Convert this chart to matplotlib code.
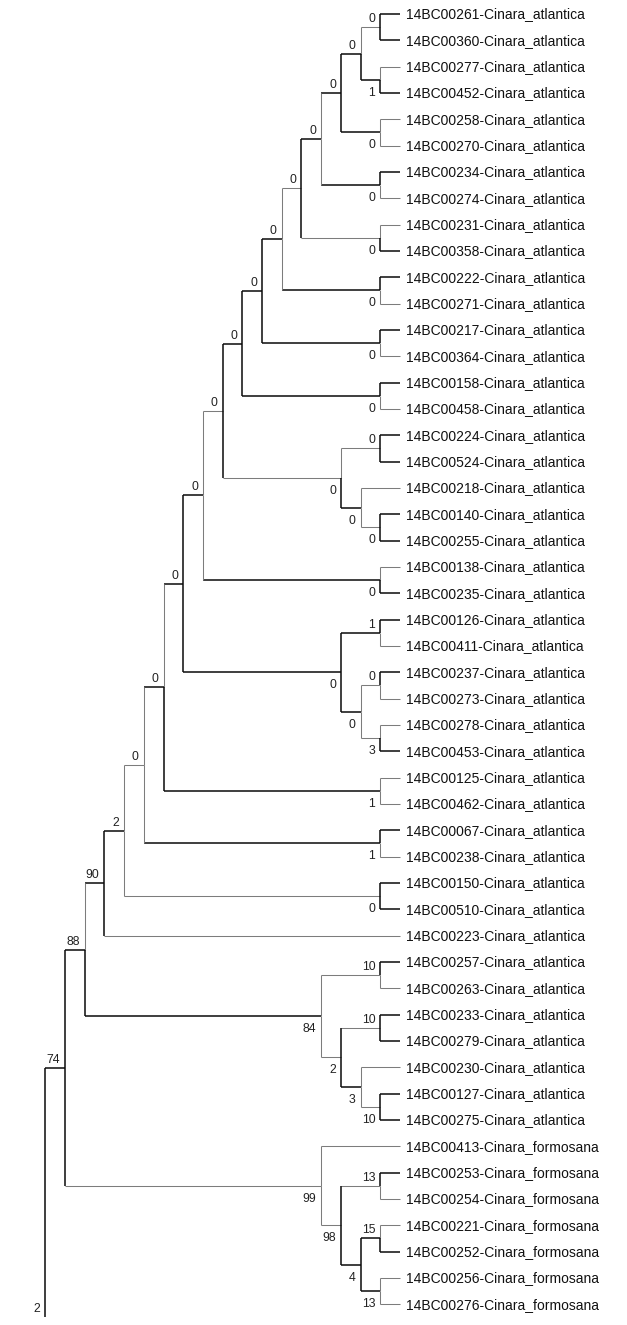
import matplotlib
matplotlib.use("Agg")
import matplotlib.pyplot as plt

plt.rcParams['font.family'] = ['Liberation Sans', 'DejaVu Sans']

# tip labels, top to bottom
taxa = [
    "14BC00261-Cinara_atlantica", "14BC00360-Cinara_atlantica",
    "14BC00277-Cinara_atlantica", "14BC00452-Cinara_atlantica",
    "14BC00258-Cinara_atlantica", "14BC00270-Cinara_atlantica",
    "14BC00234-Cinara_atlantica", "14BC00274-Cinara_atlantica",
    "14BC00231-Cinara_atlantica", "14BC00358-Cinara_atlantica",
    "14BC00222-Cinara_atlantica", "14BC00271-Cinara_atlantica",
    "14BC00217-Cinara_atlantica", "14BC00364-Cinara_atlantica",
    "14BC00158-Cinara_atlantica", "14BC00458-Cinara_atlantica",
    "14BC00224-Cinara_atlantica", "14BC00524-Cinara_atlantica",
    "14BC00218-Cinara_atlantica", "14BC00140-Cinara_atlantica",
    "14BC00255-Cinara_atlantica", "14BC00138-Cinara_atlantica",
    "14BC00235-Cinara_atlantica", "14BC00126-Cinara_atlantica",
    "14BC00411-Cinara_atlantica", "14BC00237-Cinara_atlantica",
    "14BC00273-Cinara_atlantica", "14BC00278-Cinara_atlantica",
    "14BC00453-Cinara_atlantica", "14BC00125-Cinara_atlantica",
    "14BC00462-Cinara_atlantica", "14BC00067-Cinara_atlantica",
    "14BC00238-Cinara_atlantica", "14BC00150-Cinara_atlantica",
    "14BC00510-Cinara_atlantica", "14BC00223-Cinara_atlantica",
    "14BC00257-Cinara_atlantica", "14BC00263-Cinara_atlantica",
    "14BC00233-Cinara_atlantica", "14BC00279-Cinara_atlantica",
    "14BC00230-Cinara_atlantica", "14BC00127-Cinara_atlantica",
    "14BC00275-Cinara_atlantica", "14BC00413-Cinara_formosana",
    "14BC00253-Cinara_formosana", "14BC00254-Cinara_formosana",
    "14BC00221-Cinara_formosana", "14BC00252-Cinara_formosana",
    "14BC00256-Cinara_formosana", "14BC00276-Cinara_formosana",
]

# topology (tips are indices into taxa), bootstrap values as node labels
newick = ("(" * 17 + "(0,1)0,(2,3)1)0,(4,5)0)0,(6,7)0)0,(8,9)0)0,(10,11)0)0,"
          "(12,13)0)0,(14,15)0)0,((16,17)0,(18,(19,20)0)0)0)0,(21,22)0)0,"
          "((23,24)1,((25,26)0,(27,28)3)0)0)0,(29,30)1)0,(31,32)1)0,(33,34)0)2,"
          "35)90,((36,37)10,((38,39)10,(40,(41,42)10)3)2)84)88,"
          "(43,((44,45)13,((46,47)15,(48,49)13)4)98)99)74)2")

# branches drawn in grey (keyed by first/last tip of the clade)
gray_h = {(2, 2), (4, 4), (5, 5), (7, 7), (8, 8), (11, 11), (13, 13), (15, 15),
          (18, 18), (21, 21), (24, 24), (26, 26), (27, 27), (29, 29), (30, 30),
          (32, 32), (35, 35), (37, 37), (40, 40), (43, 43), (45, 45), (46, 46),
          (48, 48), (49, 49),
          (0, 1), (8, 9), (0, 9), (16, 20), (16, 17), (19, 20), (0, 20),
          (25, 26), (27, 28), (0, 32), (33, 34), (36, 37), (38, 42), (38, 39),
          (41, 42), (43, 49), (44, 49), (44, 45)}
gray_v = {(2, 2), (4, 4), (5, 5), (7, 7), (8, 8), (11, 11), (13, 13), (15, 15),
          (18, 18), (21, 21), (24, 24), (26, 26), (27, 27), (29, 29), (30, 30),
          (32, 32), (37, 37), (40, 40), (43, 43), (45, 45), (46, 46),
          (48, 48), (49, 49),
          (0, 1), (0, 5), (6, 7), (0, 9), (10, 11), (16, 17), (19, 20), (0, 20),
          (21, 22), (25, 26), (27, 28), (0, 28), (0, 30), (31, 32), (0, 32),
          (33, 34), (0, 35), (36, 37), (38, 42), (41, 42), (44, 49)}


def parse(s):
    pos = 0

    def node():
        nonlocal pos
        if s[pos] == '(':
            pos += 1
            kids = [node()]
            while s[pos] == ',':
                pos += 1
                kids.append(node())
            pos += 1
            start = pos
            while pos < len(s) and s[pos] not in ',()':
                pos += 1
            return {'kids': kids, 'support': s[start:pos]}
        start = pos
        while pos < len(s) and s[pos] not in ',()':
            pos += 1
        return {'kids': [], 'leaf': int(s[start:pos])}

    return node()


def layout(n):
    if not n['kids']:
        n['h'] = 0
        n['y'] = n['leaf']
        n['span'] = (n['leaf'], n['leaf'])
        return
    for k in n['kids']:
        layout(k)
    n['h'] = 1 + max(k['h'] for k in n['kids'])
    n['y'] = (n['kids'][0]['y'] + n['kids'][-1]['y']) / 2
    n['span'] = (n['kids'][0]['span'][0], n['kids'][-1]['span'][1])


tree = parse(newick)
layout(tree)
tree['y'] = 49.5  # root sits at the cropped bottom edge

BLACK = '#0a0a0a'
GREY = '#7c7c7c'

fig = plt.figure(figsize=(6.27, 13.25), dpi=100)
ax = fig.add_axes([0, 0, 1, 1])
ax.set_xlim(20.30, -11.52)
ax.set_ylim(49.79, -0.532)
ax.axis('off')


def style(is_gray):
    return dict(color=GREY, lw=0.75) if is_gray else dict(color=BLACK, lw=1.1)


def draw(n, parent=None, upper=True):
    if parent is not None:
        px = parent['h']
        ax.plot([px, n['h']], [n['y'], n['y']], solid_capstyle='butt',
                **style(n['span'] in gray_h))
        ax.plot([px, px], [parent['y'], n['y']], solid_capstyle='butt',
                **style(n['span'] in gray_v))
    if n['kids']:
        dy = -5 if upper else 16
        ax.annotate(n['support'], (n['h'], n['y']), xytext=(-5, -dy),
                    textcoords='offset pixels', ha='right', va='baseline',
                    fontsize=8.8, color='#222222')
        for i, k in enumerate(n['kids']):
            draw(k, n, i == 0)
    else:
        ax.annotate(taxa[n['leaf']], (n['h'], n['y']), xytext=(6, -4.5),
                    textcoords='offset pixels', ha='left', va='baseline',
                    fontsize=10, color='#111111')


draw(tree)
fig.savefig('out.png', dpi=100)
